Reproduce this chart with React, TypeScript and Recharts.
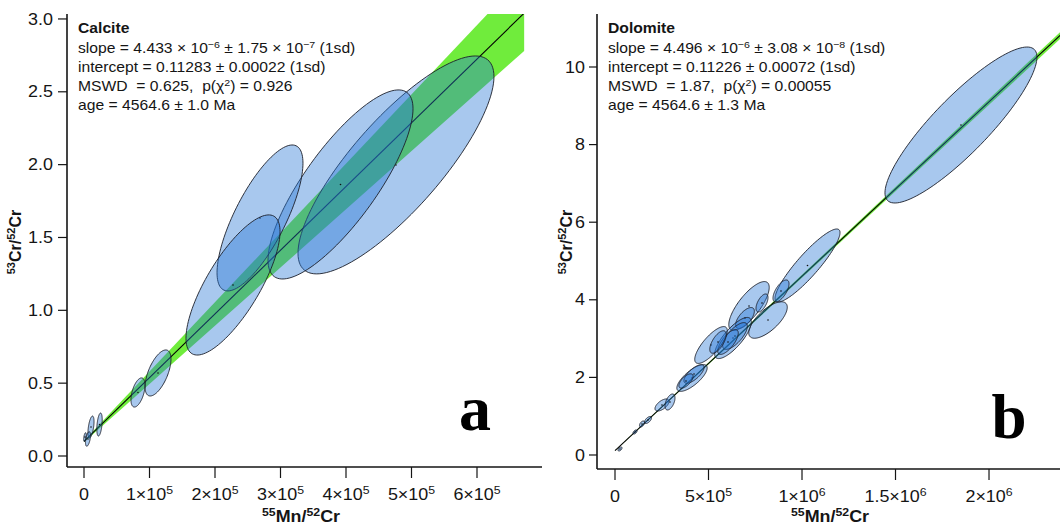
import React from 'react';
import { ScatterChart, Scatter, XAxis, YAxis } from 'recharts';

// ---------------- Panel a : Calcite ----------------
const calciteXTicks = [0, 100000, 200000, 300000, 400000, 500000, 600000];
const calciteXTickLabels = ['0', '1×10^{5}', '2×10^{5}', '3×10^{5}', '4×10^{5}', '5×10^{5}', '6×10^{5}'];
const calciteYTicks = [0, 0.5, 1, 1.5, 2, 2.5, 3];
const calciteYTickLabels = ['0.0', '0.5', '1.0', '1.5', '2.0', '2.5', '3.0'];

// error ellipses: centre (x, y), half-extents (sx, sy), correlation rho
const calciteEllipses = [
  { x: 476300, y: 1.998, sx: 149600, sy: 0.748, rho: 0.81 },
  { x: 391600, y: 1.864, sx: 110700, sy: 0.649, rho: 0.8 },
  { x: 268700, y: 1.634, sx: 65600, sy: 0.501, rho: 0.75 },
  { x: 227500, y: 1.174, sx: 71800, sy: 0.481, rho: 0.76 },
  { x: 113000, y: 0.57, sx: 19800, sy: 0.158, rho: 0.6 },
  { x: 82400, y: 0.436, sx: 10700, sy: 0.1, rho: 0.5 },
  { x: 23700, y: 0.216, sx: 4100, sy: 0.079, rho: 0.4 },
  { x: 10700, y: 0.199, sx: 4600, sy: 0.075, rho: 0.5 },
  { x: 6100, y: 0.117, sx: 3800, sy: 0.05, rho: 0.5 },
  { x: 1500, y: 0.13, sx: 2000, sy: 0.03, rho: 0.5 },
];
const calciteLineX = [0, 672000];
const calciteLineY = [0.1, 3.04];
const calciteBandX = [0, 672000];
const calciteBandLow = [0.095, 2.78];
const calciteBandHigh = [0.105, 3.3];
const calciteStats = [
  'slope = 4.433 × 10^{−6} ± 1.75 × 10^{−7} (1sd)',
  'intercept = 0.11283 ± 0.00022 (1sd)',
  'MSWD  = 0.625,  p(χ^{2}) = 0.926',
  'age = 4564.6 ± 1.0 Ma',
];

// ---------------- Panel b : Dolomite ----------------
const dolomiteXTicks = [0, 500000, 1000000, 1500000, 2000000];
const dolomiteXTickLabels = ['0', '5×10^{5}', '1×10^{6}', '1.5×10^{6}', '2×10^{6}'];
const dolomiteYTicks = [0, 2, 4, 6, 8, 10];
const dolomiteYTickLabels = ['0', '2', '4', '6', '8', '10'];

const dolomiteEllipses = [
  { x: 1850000, y: 8.505, sx: 406400, sy: 2.01, rho: 0.87 },
  { x: 1029400, y: 4.884, sx: 173800, sy: 0.941, rho: 0.9 },
  { x: 716600, y: 3.84, sx: 108000, sy: 0.63, rho: 0.76 },
  { x: 818200, y: 3.479, sx: 103000, sy: 0.47, rho: 0.7 },
  { x: 887700, y: 4.227, sx: 42800, sy: 0.284, rho: 0.65 },
  { x: 786100, y: 3.918, sx: 32100, sy: 0.232, rho: 0.6 },
  { x: 695200, y: 3.531, sx: 50000, sy: 0.27, rho: 0.65 },
  { x: 631000, y: 3.015, sx: 98000, sy: 0.53, rho: 0.78 },
  { x: 641700, y: 3.067, sx: 66000, sy: 0.345, rho: 0.72 },
  { x: 604300, y: 2.912, sx: 55000, sy: 0.32, rho: 0.72 },
  { x: 513400, y: 2.835, sx: 87000, sy: 0.475, rho: 0.78 },
  { x: 550800, y: 2.912, sx: 44000, sy: 0.29, rho: 0.65 },
  { x: 411800, y: 1.985, sx: 81000, sy: 0.345, rho: 0.75 },
  { x: 422500, y: 2.088, sx: 54000, sy: 0.24, rho: 0.72 },
  { x: 379700, y: 1.907, sx: 38000, sy: 0.185, rho: 0.65 },
  { x: 251300, y: 1.289, sx: 37400, sy: 0.155, rho: 0.6 },
  { x: 294100, y: 1.366, sx: 26700, sy: 0.206, rho: 0.5 },
  { x: 176500, y: 0.902, sx: 18700, sy: 0.09, rho: 0.6 },
  { x: 144400, y: 0.799, sx: 13400, sy: 0.077, rho: 0.5 },
  { x: 107000, y: 0.593, sx: 10700, sy: 0.052, rho: 0.5 },
  { x: 26700, y: 0.155, sx: 10700, sy: 0.052, rho: 0.5 },
];
const dolomiteLineX = [0, 2420000];
const dolomiteLineY = [0.11226, 10.993];
const dolomiteBandX = [0, 2420000];
const dolomiteBandLow = [0.11, 10.9];
const dolomiteBandHigh = [0.114, 11.08];
const dolomiteStats = [
  'slope = 4.496 × 10^{−6} ± 3.08 × 10^{−8} (1sd)',
  'intercept = 0.11226 ± 0.00072 (1sd)',
  'MSWD  = 1.87,  p(χ^{2}) = 0.00055',
  'age = 4564.6 ± 1.3 Ma',
];

// ---------------- helpers ----------------
const FONT = '"Liberation Sans", Arial, Helvetica, sans-serif';
const SERIF = '"Liberation Serif", "Times New Roman", serif';
const SX = 1.12;
const INK = '#151515';
const GREEN = '#70ec3c';

const rich = (label: string, base: number, sup: number, rise: number) => {
  const parts = label.split(/(\^\{[^}]*\})/).filter((p) => p.length > 0);
  let raised = false;
  return parts.map((p, i) => {
    if (p.startsWith('^{')) {
      raised = true;
      return (
        <tspan key={i} dy={-rise} fontSize={sup}>
          {p.slice(2, -1)}
        </tspan>
      );
    }
    const dy = raised ? rise : 0;
    raised = false;
    return (
      <tspan key={i} dy={dy} fontSize={base}>
        {p}
      </tspan>
    );
  });
};

const ellipseData = (e: { x: number; y: number; sx: number; sy: number; rho: number }) => [
  { x: e.x, y: e.y, role: 'c' },
  { x: e.x + e.sx, y: e.y + e.rho * e.sy, role: 'u' },
  { x: e.x, y: e.y + e.sy * Math.sqrt(1 - e.rho * e.rho), role: 'v' },
];

const bandData = (xs: number[], lo: number[], hi: number[]) => [
  ...xs.map((x, i) => ({ x, y: hi[i] })),
  ...xs.map((x, i) => ({ x, y: lo[i] })).reverse(),
];

const lineData = (xs: number[], ys: number[]) => xs.map((x, i) => ({ x, y: ys[i] }));

const ellipseOutline = (props: any) => {
  const pts = props.points || [];
  if (pts.length < 3) return <g />;
  const [c, u, v] = pts;
  let d = '';
  const n = 120;
  for (let i = 0; i <= n; i++) {
    const t = (i / n) * Math.PI * 2;
    const px = c.x + Math.cos(t) * (u.x - c.x) + Math.sin(t) * (v.x - c.x);
    const py = c.y + Math.cos(t) * (u.y - c.y) + Math.sin(t) * (v.y - c.y);
    d += `${i === 0 ? 'M' : 'L'}${px.toFixed(2)},${py.toFixed(2)} `;
  }
  return <path d={d + 'Z'} fill="rgb(38,117,212)" fillOpacity={0.4} stroke="#1c1f2a" strokeWidth={0.9} />;
};

const polygonFill = (fill: string) => (props: any) => {
  const pts = (props.points || []).filter((p: any) => p.x != null && p.y != null);
  if (pts.length < 3) return <g />;
  const d = pts.map((p: any, i: number) => `${i ? 'L' : 'M'}${p.x},${p.y}`).join(' ') + ' Z';
  return <path d={d} fill={fill} stroke="none" />;
};

const centreDot = (props: any) =>
  props.payload && props.payload.role === 'c' ? (
    <circle cx={props.cx} cy={props.cy} r={0.8} fill="#111" />
  ) : (
    <g />
  );
const noDot = () => <g />;

const makeXTick = (ticks: number[], labels: string[]) => (props: any) => {
  const { x, y, payload } = props;
  const idx = ticks.indexOf(payload.value);
  const label = idx >= 0 ? labels[idx] : String(payload.value);
  return (
    <text
      transform={`translate(${x},${y + 20}) scale(${SX},1)`}
      textAnchor="middle"
      fontFamily={FONT}
      fontSize={16}
      fill={INK}
    >
      {rich(label, 16, 11, 6)}
    </text>
  );
};

const makeYTick = (ticks: number[], labels: string[]) => (props: any) => {
  const { x, y, payload } = props;
  const idx = ticks.indexOf(payload.value);
  const label = idx >= 0 ? labels[idx] : String(payload.value);
  return (
    <text
      transform={`translate(${x},${y + 5.7}) scale(${SX},1)`}
      textAnchor="end"
      fontFamily={FONT}
      fontSize={16}
      fill={INK}
    >
      {label}
    </text>
  );
};

type PanelProps = {
  width: number;
  margin: { top: number; right: number; bottom: number; left: number };
  xDomain: [number, number];
  yDomain: [number, number];
  xTicks: number[];
  xLabels: string[];
  yTicks: number[];
  yLabels: string[];
  yTickSize: number;
  yTickMargin: number;
  band: { x: number; y: number }[];
  line: { x: number; y: number }[];
  ellipses: { x: number; y: number; sx: number; sy: number; rho: number }[];
};

const axisLine = { stroke: INK, strokeWidth: 1.6 };

function Panel(p: PanelProps) {
  return (
    <ScatterChart width={p.width} height={526} margin={p.margin}>
      <XAxis
        type="number"
        dataKey="x"
        domain={p.xDomain}
        allowDataOverflow
        ticks={p.xTicks}
        interval={0}
        tickSize={11}
        tickMargin={2}
        height={40}
        axisLine={axisLine}
        tickLine={{ stroke: INK, strokeWidth: 1.2 }}
        tick={makeXTick(p.xTicks, p.xLabels)}
      />
      <XAxis
        xAxisId="top"
        orientation="top"
        type="number"
        domain={p.xDomain}
        allowDataOverflow
        height={0}
        tick={false}
        tickLine={false}
        axisLine={axisLine}
      />
      <YAxis
        type="number"
        dataKey="y"
        domain={p.yDomain}
        allowDataOverflow
        ticks={p.yTicks}
        interval={0}
        width={60}
        tickSize={p.yTickSize}
        tickMargin={p.yTickMargin}
        axisLine={axisLine}
        tickLine={{ stroke: INK, strokeWidth: 1.2 }}
        tick={makeYTick(p.yTicks, p.yLabels)}
      />
      <YAxis
        yAxisId="right"
        orientation="right"
        type="number"
        domain={p.yDomain}
        allowDataOverflow
        width={0}
        tick={false}
        tickLine={false}
        axisLine={axisLine}
      />
      <Scatter
        data={p.band}
        line={polygonFill(GREEN)}
        lineType="joint"
        shape={noDot}
        isAnimationActive={false}
      />
      <Scatter
        data={p.line}
        line={{ stroke: '#000', strokeWidth: 1.1 }}
        lineType="joint"
        shape={noDot}
        isAnimationActive={false}
      />
      {p.ellipses.map((e, i) => (
        <Scatter
          key={i}
          data={ellipseData(e)}
          line={ellipseOutline}
          lineType="joint"
          shape={centreDot}
          isAnimationActive={false}
        />
      ))}
    </ScatterChart>
  );
}

const Stats = ({ x, title, lines }: { x: number; title: string; lines: string[] }) => {
  const baselines = [52.5, 71.5, 90.5, 109.5];
  return (
    <g fontFamily={FONT} fill={INK}>
      <text transform={`translate(${x},33) scale(${SX},1)`} fontSize={14} fontWeight="bold">
        {title}
      </text>
      {lines.map((l, i) => (
        <text
          key={i}
          transform={`translate(${x},${baselines[i]}) scale(${SX},1)`}
          fontSize={14}
          style={{ whiteSpace: 'pre' }}
        >
          {rich(l, 14, 9.5, 5)}
        </text>
      ))}
    </g>
  );
};

const AxisTitleX = ({ cx }: { cx: number }) => (
  <text
    transform={`translate(${cx},522) scale(${SX},1)`}
    textAnchor="middle"
    fontFamily={FONT}
    fontWeight="bold"
    fontSize={16}
    fill={INK}
  >
    {rich('^{55}Mn/^{52}Cr', 16, 11, 6)}
  </text>
);

const AxisTitleY = ({ bx, cy }: { bx: number; cy: number }) => (
  <text
    transform={`translate(${bx},${cy}) rotate(-90)`}
    textAnchor="middle"
    fontFamily={FONT}
    fontWeight="bold"
    fontSize={16}
    fill={INK}
  >
    {rich('^{53}Cr/^{52}Cr', 16, 11, 6)}
  </text>
);

export default function App() {
  return (
    <div
      style={{
        position: 'fixed',
        left: 0,
        top: 0,
        width: 1060,
        height: 526,
        overflow: 'hidden',
        background: '#fff',
      }}
    >
      <div style={{ position: 'absolute', left: 0, top: 0 }}>
        <Panel
          width={548}
          margin={{ top: 14, right: 6, bottom: 19, left: 7 }}
          xDomain={[-25954, 699237]}
          yDomain={[-0.0755, 3.034]}
          xTicks={calciteXTicks}
          xLabels={calciteXTickLabels}
          yTicks={calciteYTicks}
          yLabels={calciteYTickLabels}
          yTickSize={9}
          yTickMargin={5}
          band={bandData(calciteBandX, calciteBandLow, calciteBandHigh)}
          line={lineData(calciteLineX, calciteLineY)}
          ellipses={calciteEllipses}
        />
      </div>
      <div style={{ position: 'absolute', left: 530, top: 0 }}>
        <Panel
          width={540}
          margin={{ top: 14, right: 6, bottom: 17, left: 7 }}
          xDomain={[-96257, 2401000]}
          yDomain={[-0.361, 11.366]}
          xTicks={dolomiteXTicks}
          xLabels={dolomiteXTickLabels}
          yTicks={dolomiteYTicks}
          yLabels={dolomiteYTickLabels}
          yTickSize={8}
          yTickMargin={4}
          band={bandData(dolomiteBandX, dolomiteBandLow, dolomiteBandHigh)}
          line={lineData(dolomiteLineX, dolomiteLineY)}
          ellipses={dolomiteEllipses}
        />
      </div>
      <svg
        width={1060}
        height={526}
        style={{ position: 'absolute', left: 0, top: 0, pointerEvents: 'none' }}
      >
        <Stats x={78} title="Calcite" lines={calciteStats} />
        <Stats x={608} title="Dolomite" lines={dolomiteStats} />
        <AxisTitleX cx={301} />
        <AxisTitleX cx={830} />
        <AxisTitleY bx={21} cy={242} />
        <AxisTitleY bx={572} cy={242} />
        <text x={475} y={430} textAnchor="middle" fontFamily={SERIF} fontWeight="bold" fontSize={64} fill="#000">
          a
        </text>
        <text x={1009} y={438} textAnchor="middle" fontFamily={SERIF} fontWeight="bold" fontSize={63} fill="#000">
          b
        </text>
      </svg>
    </div>
  );
}
